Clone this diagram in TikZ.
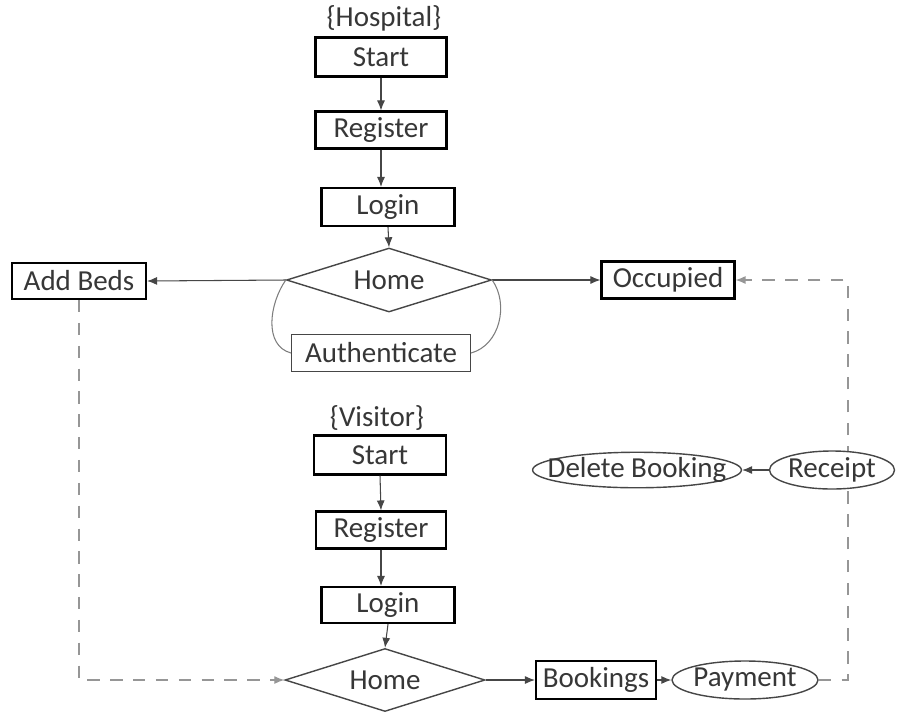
\documentclass[tikz,border=0pt]{standalone}
\usepackage{fontspec}
\setmainfont{Carlito}
\usepackage{tikz}
\usetikzlibrary{positioning, arrows.meta, shapes.geometric, calc}
\definecolor{flowtext}{RGB}{55,55,55}
\definecolor{flowline}{RGB}{70,70,70}
\definecolor{flowdash}{RGB}{150,150,150}

\begin{document}
\begin{tikzpicture}[
  step box/.style={
    draw=black, line width=1.2pt, fill=white,
    minimum width=2.62cm, minimum height=0.76cm, inner sep=0pt,
    font=\fontsize{16.5}{19}\selectfont, text=flowtext
  },
  home/.style={
    draw=flowline, line width=0.8pt, fill=white, shape=diamond, aspect=3.2,
    minimum width=4.1cm, minimum height=1.28cm, inner sep=0pt,
    font=\fontsize{16.5}{19}\selectfont, text=flowtext
  },
  oval/.style={
    draw=flowline, line width=0.8pt, fill=white, shape=ellipse,
    minimum height=0.76cm, inner sep=0pt,
    font=\fontsize{16.5}{19}\selectfont, text=flowtext
  },
  role/.style={font=\fontsize{16.5}{19}\selectfont, text=flowtext},
  arrow/.style={-{Latex[length=2mm, width=1.6mm]}, line width=0.6pt, flowline},
  link/.style={line width=0.6pt, flowline!70},
  dasharrow/.style={-{Latex[length=2mm, width=1.6mm]}, line width=0.7pt, flowdash,
    dash pattern=on 7pt off 6pt}
]
  \useasboundingbox (0,0) rectangle (18.12,-14.22);

  % hospital side
  \node[role] (hospital) at (7.68,-0.36) {\{Hospital\}};
  \node[step box, minimum height=0.78cm] (start1) at (7.62,-1.14) {Start};
  \node[step box, minimum height=0.74cm] (reg1) at (7.62,-2.6) {Register};
  \node[step box, minimum width=2.66cm] (login1) at (7.76,-4.14) {Login};
  \node[home] (home1) at (7.78,-5.6) {Home};
  \node[step box, minimum width=2.68cm, minimum height=0.72cm] (beds) at (1.58,-5.62) {Add Beds};
  \node[step box, minimum width=2.66cm, minimum height=0.74cm] (occupied) at (13.36,-5.6) {Occupied};
  \node[step box, draw=flowline, line width=0.6pt, minimum width=3.58cm, minimum height=0.74cm] (auth) at (7.62,-7.06) {Authenticate};

  \draw[arrow] (start1.south) -- (reg1.north);
  \draw[arrow] (reg1.south) -- (reg1.south |- login1.north);
  \draw[arrow] (login1.south) -- (home1.north);
  \draw[arrow] (home1.west) -- (beds.east);
  \draw[arrow] (home1.east) -- (occupied.west);
  \draw[link] (home1.west) to[out=235, in=165] (auth.west);
  \draw[link] (home1.east) to[out=-55, in=15] (auth.east);

  % visitor side
  \node[role] (visitor) at (7.54,-8.36) {\{Visitor\}};
  \node[step box, minimum width=2.64cm, minimum height=0.78cm] (start2) at (7.6,-9.1) {Start};
  \node[step box, minimum width=2.6cm, minimum height=0.74cm] (reg2) at (7.62,-10.6) {Register};
  \node[step box, minimum width=2.66cm, minimum height=0.72cm] (login2) at (7.76,-12.1) {Login};
  \node[home, minimum width=4cm, minimum height=1.26cm] (home2) at (7.7,-13.6) {Home};
  \node[step box, minimum width=2.4cm] (bookings) at (11.92,-13.6) {Bookings};
  \node[oval, minimum width=2.92cm] (payment) at (14.9,-13.6) {Payment};
  \node[oval, inner xsep=-0.31cm, minimum height=0.66cm] (delete) at (12.74,-9.4) {Delete Booking};

  \draw[arrow] (start2.south) -- (reg2.north);
  \draw[arrow] (reg2.south) -- (reg2.south |- login2.north);
  \draw[arrow] (login2.south) -- (home2.north);
  \draw[arrow] (home2.east) -- (bookings.west);
  \draw[arrow] (bookings.east) -- (payment.west);

  % dashed returns
  \coordinate (bend) at (16.96,-5.6);
  \draw[dasharrow] (beds.south) |- (home2.west);
  \draw[dasharrow] (payment.east) -| (bend) -- (occupied.east);

  \node[oval, minimum width=2.5cm] (receipt) at (16.64,-9.4) {Receipt};
  \draw[arrow] (receipt.west) -- (delete.east);
\end{tikzpicture}
\end{document}
